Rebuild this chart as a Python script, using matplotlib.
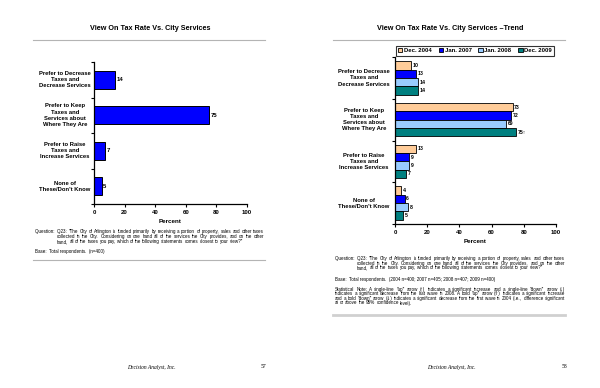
import numpy as np
import matplotlib
matplotlib.use('Agg')
import matplotlib.pyplot as plt
from matplotlib.lines import Line2D
from matplotlib.transforms import blended_transform_factory

plt.rcParams['font.family'] = ['Liberation Sans', 'DejaVu Sans']

# data
categories = ['Prefer to Decrease\nTaxes and\nDecrease Services',
              'Prefer to Keep\nTaxes and\nServices about\nWhere They Are',
              'Prefer to Raise\nTaxes and\nIncrease Services',
              'None of\nThese/Don\'t Know']
current = [14, 75, 7, 5]

waves = ['Dec. 2004', 'Jan. 2007', 'Jan. 2008', 'Dec. 2009']
trend = {
    'Dec. 2004': [10, 73, 13, 4],
    'Jan. 2007': [13, 72, 9, 6],
    'Jan. 2008': [14, 69, 9, 8],
    'Dec. 2009': [14, 75, 7, 5],
}
trend_labels = {
    'Dec. 2004': ['10', '73', '13', '4'],
    'Jan. 2007': ['13', '72', '9', '6'],
    'Jan. 2008': ['14', '69', '9', '8'],
    'Dec. 2009': ['14', '75\u2191', '7', '5'],
}
xticks = [0, 20, 40, 60, 80, 100]

wave_colors = ['#FFCC99', '#0000FF', '#99CCFF', '#008080']

q_lines = ['"The City of Arlington is funded primarily by receiving a portion of property, sales and other taxes',
           'collected in the City.  Considering on one hand all of the services the City provides, and on the other',
           'hand, all of the taxes you pay, which of the following statements comes closest to your view?"']
s_lines = ['Statistical Note:  A single-line "up" arrow (\u2191) indicates a significant increase and a single-line "down" arrow (\u2193)',
           'indicates a significant decrease from the last wave in 2008.  A bold "up" arrow (\u21d1) indicates a significant increase',
           'and a bold "down" arrow (\u21d3) indicates a significant decrease from the first wave in 2004 (i.e., difference significant',
           'at or above the 95% confidence level).']

W, H = 600, 388
fig = plt.figure(figsize=(6, 3.88), dpi=100)
renderer = fig.canvas.get_renderer()
foot = 3.25


def fx(px):
    return px / W


def fy(py):
    return 1 - py / H


def hline(x0, x1, y, color='#b4b4b4', lw=0.8):
    fig.add_artist(Line2D([fx(x0), fx(x1)], [fy(y), fy(y)],
                          transform=fig.transFigure, color=color, lw=lw))


def text_width(t):
    return t.get_window_extent(renderer).width


def small(xpx, ypx, s):
    # footnote text, placed on its baseline
    return fig.text(fx(xpx), fy(ypx + 1.2), s, fontsize=foot, va='baseline')


def justify(x0, x1, ypx, line, stretch=True):
    # place words one by one so the line fills x0..x1
    words = line.split()
    objs = [small(0, ypx, w) for w in words]
    widths = [text_width(o) for o in objs]
    if stretch and len(words) > 1:
        gap = (x1 - x0 - sum(widths)) / (len(words) - 1)
    else:
        gap = 1.1
    x = x0
    for o, wd in zip(objs, widths):
        o.set_x(fx(x))
        x += wd + gap


def style_axes(ax):
    for s in ['top', 'right']:
        ax.spines[s].set_visible(False)
    for s in ['left', 'bottom']:
        ax.spines[s].set_linewidth(0.9)
    ax.set_xlim(0, 100)
    ax.set_ylim(3.5, -0.5)
    ax.set_xticks(xticks)
    ax.set_xticklabels([str(t) for t in xticks], fontsize=4.3, fontweight='bold')
    ax.set_yticks([-0.5, 0.5, 1.5, 2.5, 3.5])
    ax.set_yticklabels([])
    ax.tick_params(axis='both', length=2.2, width=0.8, pad=2)
    ax.set_xlabel('Percent', fontsize=4.5, fontweight='bold', labelpad=3)


def question_block(x0, indent, x1, y0, step):
    pre = small(x0, y0, 'Question:  Q23:')
    start = max(indent, x0 + text_width(pre) + 2)
    justify(start, x1, y0, q_lines[0])
    justify(indent, x1, y0 + step, q_lines[1])
    justify(indent, x1, y0 + 2 * step, q_lines[2], stretch=False)


# ---------------- left page ----------------
fig.text(fx(150), fy(29), 'View On Tax Rate Vs. City Services', ha='center',
         va='center', fontsize=5.2, fontweight='bold')
hline(33, 265, 40)

ax1 = fig.add_axes([fx(94), fy(204), fx(247) - fx(94), fy(62) - fy(204)])
y = np.arange(len(categories))
ax1.barh(y, current, height=0.5, color='#0000FF', edgecolor='black', linewidth=0.7)
for i, v in enumerate(current):
    ax1.text(v + 1, i, str(v), va='center', ha='left', fontsize=4.3,
             fontweight='bold')
style_axes(ax1)
tr1 = blended_transform_factory(ax1.transAxes, ax1.transData)
for i, c in enumerate(categories):
    ax1.text(-0.19, i, c, transform=tr1, ha='center', va='center',
             fontsize=4.2, fontweight='bold', linespacing=1.3)

question_block(35, 57, 264, 232, 4.8)
small(35, 252, 'Base:  Total respondents.  (n=400)')
hline(33, 265, 260)

fig.text(fx(151), fy(367), 'Decision Analyst, Inc.', family='Liberation Serif',
         style='italic', fontsize=4, ha='center', va='center')
fig.text(fx(263), fy(367), '57', family='Liberation Serif', fontsize=4,
         ha='center', va='center')

# ---------------- right page ----------------
fig.text(fx(450), fy(29), 'View On Tax Rate Vs. City Services \u2013Trend',
         ha='center', va='center', fontsize=5.2, fontweight='bold')
hline(333, 565, 40)

ax2 = fig.add_axes([fx(395), fy(224), fx(556) - fx(395), fy(57) - fy(224)])
bh = 0.2
for j, w in enumerate(waves):
    pos = y - 0.4 + bh * (j + 0.5)
    ax2.barh(pos, trend[w], height=bh, color=wave_colors[j], edgecolor='black',
             linewidth=0.6, label=w)
    for i, v in enumerate(trend[w]):
        ax2.text(v + 1, pos[i], trend_labels[w][i], va='center', ha='left',
                 fontsize=3.7, fontweight='bold')
style_axes(ax2)
tr2 = blended_transform_factory(ax2.transAxes, ax2.transData)
for i, c in enumerate(categories):
    ax2.text(-0.193, i, c, transform=tr2, ha='center', va='center',
             fontsize=4.2, fontweight='bold', linespacing=1.3)

leg = ax2.legend(loc='lower left', bbox_to_anchor=(0, 1.005, 0.994, 0.07),
                 mode='expand', ncol=4, frameon=True, fancybox=False,
                 handlelength=0.7, handleheight=0.7, handletextpad=0.3,
                 columnspacing=0.8, borderpad=0.4, borderaxespad=0.1,
                 prop={'weight': 'bold', 'size': 4.3})
leg.get_frame().set_edgecolor('black')
leg.get_frame().set_linewidth(0.8)

question_block(335, 357, 565, 259, 4.6)
small(335, 279.5, 'Base:  Total respondents.  (2004 n=400; 2007 n=405; 2008 n=407; 2009 n=400)')
for k, ln in enumerate(s_lines):
    justify(335, 565, 289.5 + 4.6 * k, ln, stretch=(k < len(s_lines) - 1))
hline(333, 565, 315, color='#d0d0d0', lw=2)

fig.text(fx(451), fy(367), 'Decision Analyst, Inc.', family='Liberation Serif',
         style='italic', fontsize=4, ha='center', va='center')
fig.text(fx(565), fy(367), '58', family='Liberation Serif', fontsize=4,
         ha='center', va='center')

fig.savefig('out.png', dpi=100, facecolor='white')
